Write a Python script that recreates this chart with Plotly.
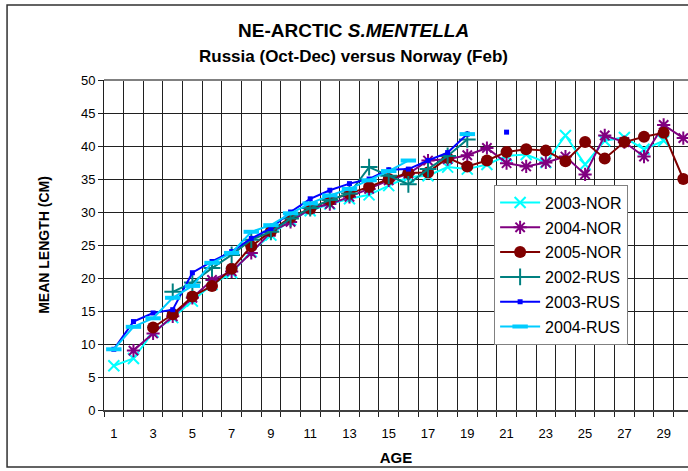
import plotly.graph_objects as go

ages = list(range(1, 31))
odd_ticks = list(range(1, 31, 2))
odd_labels = [str(a) for a in odd_ticks]

nor_2003 = [6.7, 7.8, 11.8, 14.0, 16.5, 19.0, 20.8, 24.0, 26.5, 28.8, 30.2, 31.2, 32.0, 32.6, 34.0, 35.3, 35.5, 36.8,
            36.5, 37.2, 38.5, 38.7, 37.5, 41.6, 37.2, 40.8, 41.3, 39.5, 40.8, None]
nor_2004 = [None, 9.0, 11.6, 14.2, 17.0, 19.7, 21.0, 23.8, 27.0, 28.5, 30.5, 31.2, 32.3, 33.5, 34.8, 35.8, 37.8, 38.0,
            38.6, 39.7, 37.4, 36.9, 37.5, 38.4, 35.7, 41.6, 40.6, 38.4, 43.2, 41.2]
nor_2005 = [None, None, 12.5, 14.5, 17.2, 18.8, 21.4, 24.8, 27.1, 29.2, 30.5, 31.8, 32.8, 33.8, 35.0, 35.9, 36.0, 38.2,
            36.9, 37.8, 39.1, 39.5, 39.3, 37.7, 40.6, 38.1, 40.6, 41.4, 42.0, 35.0]
rus_2002 = [None, None, None, 17.9, 19.3, 21.5, 23.5, 25.8, 27.0, 29.0, 30.6, 31.8, 32.8, 36.8, 35.5, 34.2, 36.5, 38.5,
            41.0, None, None, None, None, None, None, None, None, None, None, None]
rus_2003 = [9.2, 13.4, 14.7, 15.2, 20.8, 22.5, 24.0, 26.0, 27.5, 30.0, 32.0, 33.3, 34.3, 35.0, 36.4, 36.5, 37.8, 39.0,
            41.8, None, 42.1, None, None, None, None, None, None, None, None, None]
rus_2004 = [9.2, 12.6, 13.9, 17.0, 18.8, 22.3, 23.8, 27.0, 28.0, 29.8, 31.3, 32.5, 33.5, 34.8, 36.2, 37.8, None, None,
            41.8, None, None, None, None, None, None, None, None, None, None, None]

FONT = "Arial, Liberation Sans, sans-serif"

series = [
    ("2003-NOR", nor_2003, "#00FFFF", dict(symbol="x-thin-open", size=11, line=dict(width=2, color="#00FFFF"))),
    ("2004-NOR", nor_2004, "#800080", dict(symbol="asterisk-open", size=11, line=dict(width=2, color="#800080"))),
    ("2005-NOR", nor_2005, "#800000", dict(symbol="circle", size=12, color="#800000", line=dict(width=0))),
    ("2002-RUS", rus_2002, "#008080", dict(symbol="cross-thin-open", size=12, line=dict(width=2, color="#008080"))),
    ("2003-RUS", rus_2003, "#0000FF", dict(symbol="square", size=5, color="#0000FF", line=dict(width=0))),
    ("2004-RUS", rus_2004, "#00CCFF", dict(symbol="line-ew-open", size=11, line=dict(width=4, color="#00CCFF"))),
]

fig = go.Figure()
for name, vals, color, marker in series:
    fig.add_trace(go.Scatter(
        x=ages, y=vals, name=name, mode="lines+markers",
        line=dict(color=color, width=2), marker=marker,
        connectgaps=False, legendgroup=name, cliponaxis=False,
    ))

fig.update_layout(
    width=688, height=471,
    margin=dict(l=104, r=0, t=80, b=61, autoexpand=False),
    paper_bgcolor="white", plot_bgcolor="white",
    font=dict(family=FONT, size=13, color="black"),
    showlegend=True,
    legend=dict(
        x=0.668, y=0.683, xanchor="left", yanchor="top",
        bgcolor="white", bordercolor="#808080", borderwidth=1,
        font=dict(family=FONT, size=16, color="black"),
        tracegroupgap=1, itemwidth=40,
    ),
    xaxis=dict(
        range=[0.5, 30.24], tickmode="array", tickvals=odd_ticks, ticktext=odd_labels,
        ticks="", showgrid=False, zeroline=False, automargin=False,
        showline=True, linecolor="#404040", linewidth=2,
        tickfont=dict(family=FONT, size=13), ticklabelstandoff=10,
        minor=dict(tick0=0.5, dtick=1, showgrid=True, gridcolor="#202020", gridwidth=1,
                   ticks="outside", ticklen=5, tickcolor="#202020", tickwidth=1),
        title=dict(text="<b>AGE</b>", font=dict(family=FONT, size=15), standoff=13),
    ),
    yaxis=dict(
        range=[0, 50], dtick=5, tick0=0, showgrid=True, gridcolor="#202020", gridwidth=1,
        zeroline=False, showline=True, linecolor="#202020", linewidth=1, automargin=False,
        ticks="outside", ticklen=5, tickcolor="#202020",
        tickfont=dict(family=FONT, size=13),
        title=dict(text="<b>MEAN LENGTH (CM)</b>", font=dict(family=FONT, size=14), standoff=28),
    ),
)

# top border of plot area (gray)
fig.add_shape(type="line", xref="paper", yref="paper", x0=0, x1=1, y0=1, y1=1,
              line=dict(color="#808080", width=2))
# outer chart border
fig.add_shape(type="rect", xref="paper", yref="paper", x0=-0.166, x1=1.2, y0=-0.173, y1=1.227,
              line=dict(color="#303030", width=1.5), layer="above")

fig.add_annotation(xref="paper", yref="paper", x=0.428, y=1.1515, xanchor="center", yanchor="middle",
                   showarrow=False, text="<b>NE-ARCTIC <i>S.MENTELLA</i></b>",
                   font=dict(family=FONT, size=19))
fig.add_annotation(xref="paper", yref="paper", x=0.428, y=1.0727, xanchor="center", yanchor="middle",
                   showarrow=False, text="<b>Russia (Oct-Dec) versus Norway (Feb)</b>",
                   font=dict(family=FONT, size=17))

fig.write_html("out.html", config={"displayModeBar": False},
               post_script="document.body.style.margin='0';document.body.style.overflow='hidden';")
